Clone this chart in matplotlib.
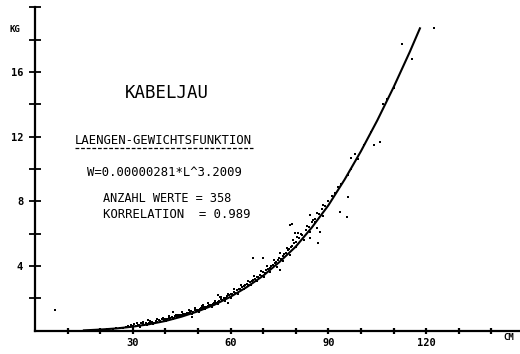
import matplotlib
matplotlib.use("Agg")
import matplotlib.pyplot as plt
from matplotlib.lines import Line2D

# ---- data ----
# fitted curve (length cm -> weight kg)
curve_len = [15, 20, 25, 30, 35, 40, 45, 50, 55, 60, 65, 70, 75, 80, 85,
             90, 95, 100, 105, 110, 115, 118.1]
curve_wt = [0.02, 0.07, 0.14, 0.25, 0.40, 0.60, 0.87, 1.20, 1.60, 2.10, 2.70, 3.40, 4.25, 5.20, 6.40,
            7.75, 9.35, 11.1, 13.0, 15.05, 17.25, 18.7]

# measured fish (length cm, weight kg)
fish_len = [22, 24, 25, 26, 27, 28, 28.5, 29, 29.5, 30, 30.5, 31, 31.5, 32, 32.5, 33, 33.5, 34, 34.5, 35,
            35.5, 36, 36.5, 37, 37.5, 38, 38.5, 39, 39.5, 40, 40.5, 41, 41.5, 42, 42.5, 43, 43.5, 44, 44.5, 45,
            45.5, 46, 46.5, 47, 47.5, 48, 48.5, 49, 49.5, 50, 50.5, 51, 51.5, 52, 52.5, 53, 53.5, 54, 54.5, 55,
            55.5, 56, 56.5, 57, 57.5, 58, 58.5, 59, 59.5, 60, 60.5, 61, 61.5, 62, 62.5, 63, 63.5, 64, 64.5, 65,
            65.5, 66, 66.5, 67, 67.5, 68, 68.5, 69, 69.5, 70, 70.5, 71, 71.5, 72, 72.5, 73, 73.5, 74, 74.5, 75,
            75.5, 76, 76.5, 77, 77.5, 78, 78.5, 79, 79.5, 80, 81, 82, 83, 84, 85, 86, 87, 88, 89, 90,
            91, 92, 93, 94, 96, 97, 99, 101, 103, 108, 110,
            30.2, 31.2, 32.3, 33.2, 34.3, 35.3, 36.2, 37.3, 38.2, 39.2, 40.3, 41.2, 42.3, 43.2, 44.2, 45.2,
            46.2, 47.2, 48.2, 49.2, 50.2, 51.2, 52.2, 53.2, 54.2, 55.2, 56.2, 57.2, 58.2, 59.2, 60.2, 61.2,
            62.2, 63.2, 64.2, 65.2, 66.2, 67.2, 68.2, 69.2, 70.2, 71.2, 72.2, 73.2, 74.2, 75.2, 76.2, 77.2,
            78.2, 79.2, 80.2, 81.5, 82.5, 83.5, 84.5, 86.5, 88.5,
            122.5, 112.5, 115.7, 106.7, 106.0, 104.1, 98.2, 97.1, 96.1, 93.6, 95.6, 88.4, 84.4, 85.4, 86.4,
            87.4, 78.7, 79.8, 80.8, 80.3, 84.4, 86.9, 70.0, 66.9, 42.4, 34.8, 56.2, 59.3, 48.1, 51.6,
            85.9, 78.2, 75.2, 56.7, 6.1]
fish_wt = [0.10, 0.12, 0.15, 0.18, 0.15, 0.22, 0.30, 0.25, 0.35, 0.28, 0.40, 0.30, 0.38, 0.33, 0.45, 0.40, 0.36, 0.48, 0.42, 0.50,
           0.46, 0.55, 0.50, 0.60, 0.55, 0.65, 0.60, 0.70, 0.66, 0.75, 0.70, 0.80, 0.76, 0.85, 0.80, 0.90, 0.86, 0.95, 1.00, 0.98,
           1.05, 1.02, 1.10, 1.08, 1.15, 1.20, 1.16, 1.25, 1.30, 1.28, 1.35, 1.40, 1.38, 1.48, 1.45, 1.55, 1.60, 1.58, 1.68, 1.72,
           1.70, 1.80, 1.85, 1.95, 1.90, 2.05, 2.00, 2.15, 2.20, 2.25, 2.30, 2.40, 2.35, 2.50, 2.55, 2.60, 2.70, 2.75, 2.80, 2.90,
           2.85, 3.00, 3.10, 3.15, 3.20, 3.30, 3.35, 3.45, 3.40, 3.60, 3.55, 3.75, 3.80, 3.90, 4.00, 4.05, 4.20, 4.25, 4.35, 4.50,
           4.45, 4.65, 4.75, 4.80, 5.00, 5.05, 5.20, 5.25, 5.40, 5.50, 5.75, 5.90, 6.20, 6.40, 6.70, 6.90, 7.20, 7.50, 7.70, 8.00,
           8.30, 8.50, 8.90, 9.10, 9.60, 10.0, 10.6, 11.5, 12.3, 14.3, 15.0,
           0.20, 0.45, 0.25, 0.52, 0.35, 0.60, 0.42, 0.72, 0.52, 0.80, 0.62, 0.92, 0.72, 1.00, 0.85, 1.15,
           0.95, 1.25, 1.05, 1.40, 1.18, 1.55, 1.32, 1.70, 1.45, 1.85, 1.65, 2.10, 1.85, 2.30, 2.05, 2.60,
           2.30, 2.80, 2.55, 3.10, 2.80, 3.40, 3.05, 3.70, 3.35, 4.00, 3.65, 4.35, 3.95, 4.80, 4.30, 5.10,
           4.70, 5.60, 5.20, 6.00, 5.60, 6.50, 6.10, 7.30, 7.10,
           18.7, 17.7, 16.8, 14.0, 11.7, 11.5, 10.9, 10.7, 8.29, 7.32, 7.01, 7.77, 7.16, 6.85, 6.33,
           6.12, 6.58, 6.02, 6.02, 5.78, 5.71, 5.40, 4.48, 4.50, 1.18, 0.66, 2.21, 1.69, 0.87, 1.59,
           6.74, 6.54, 3.75, 2.10, 1.27]

x_ticks = [10, 20, 30, 40, 50, 60, 70, 80, 90, 100, 110, 120, 130, 140]
x_tick_labels = ["", "", "30", "", "", "60", "", "", "90", "", "", "120", "", ""]
y_ticks = [2, 4, 6, 8, 10, 12, 14, 16, 18, 20]
y_tick_labels = ["", "4", "", "8", "", "12", "", "16", "", ""]

title = "KABELJAU"
subtitle = "LAENGEN-GEWICHTSFUNKTION"
formula = "W=0.00000281*L^3.2009"
count_text = "ANZAHL WERTE = 358"
corr_text = "KORRELATION  = 0.989"

# ---- figure ----
W, H = 520, 354
fig = plt.figure(figsize=(W / 100, H / 100), dpi=100)
fig.patch.set_facecolor("white")

def fx(px):
    return px / W

def fy(py):
    return 1 - py / H

ax = fig.add_axes([fx(35), fy(330.7), fx(520) - fx(35), fy(7.3) - fy(330.7)])
ax.set_xlim(0, 148.8)
ax.set_ylim(0, 20)
for s in ("top", "right"):
    ax.spines[s].set_visible(False)
ax.spines["left"].set_linewidth(1.6)
ax.spines["bottom"].set_linewidth(1.6)

ax.set_xticks(x_ticks)
ax.set_xticklabels(x_tick_labels)
ax.set_yticks(y_ticks)
ax.set_yticklabels(y_tick_labels)
ax.tick_params(axis="y", direction="inout", length=9, width=1.3, pad=4,
               labelsize=7.5)
ax.tick_params(axis="x", direction="inout", length=4, width=1.6, pad=3,
               labelsize=7.5)
for lab in ax.get_xticklabels() + ax.get_yticklabels():
    lab.set_fontfamily("DejaVu Sans Mono")
    lab.set_fontweight("bold")

ax.plot(fish_len, fish_wt, linestyle="none", marker="s", markersize=2.0,
        color="black", markeredgewidth=0, clip_on=False)
ax.plot(curve_len, curve_wt, color="black", linewidth=1.5)

mono = "DejaVu Sans Mono"
fig.text(fx(10), fy(30), "KG", fontsize=6.5, family=mono, fontweight="bold",
         va="center", ha="left")
fig.text(fx(509), fy(338), "CM", fontsize=6.5, family=mono, fontweight="bold",
         va="center", ha="center")

fig.text(fx(166.5), fy(93), title, fontsize=12.5, family=mono, va="center", ha="center")
fig.text(fx(163.5), fy(140), subtitle, fontsize=8.8, family=mono, va="center", ha="center")
fig.add_artist(Line2D([fx(75), fx(253)], [fy(148), fy(148)], color="black",
                      linewidth=0.9, linestyle=(0, (3, 1.5))))
fig.text(fx(164.5), fy(172.7), formula, fontsize=8.8, family=mono, va="center", ha="center")
fig.text(fx(103), fy(199), count_text, fontsize=8.6, family=mono, va="center", ha="left")
fig.text(fx(103), fy(215), corr_text, fontsize=8.8, family=mono, va="center", ha="left")

fig.savefig("out.png", dpi=100, facecolor="white")
